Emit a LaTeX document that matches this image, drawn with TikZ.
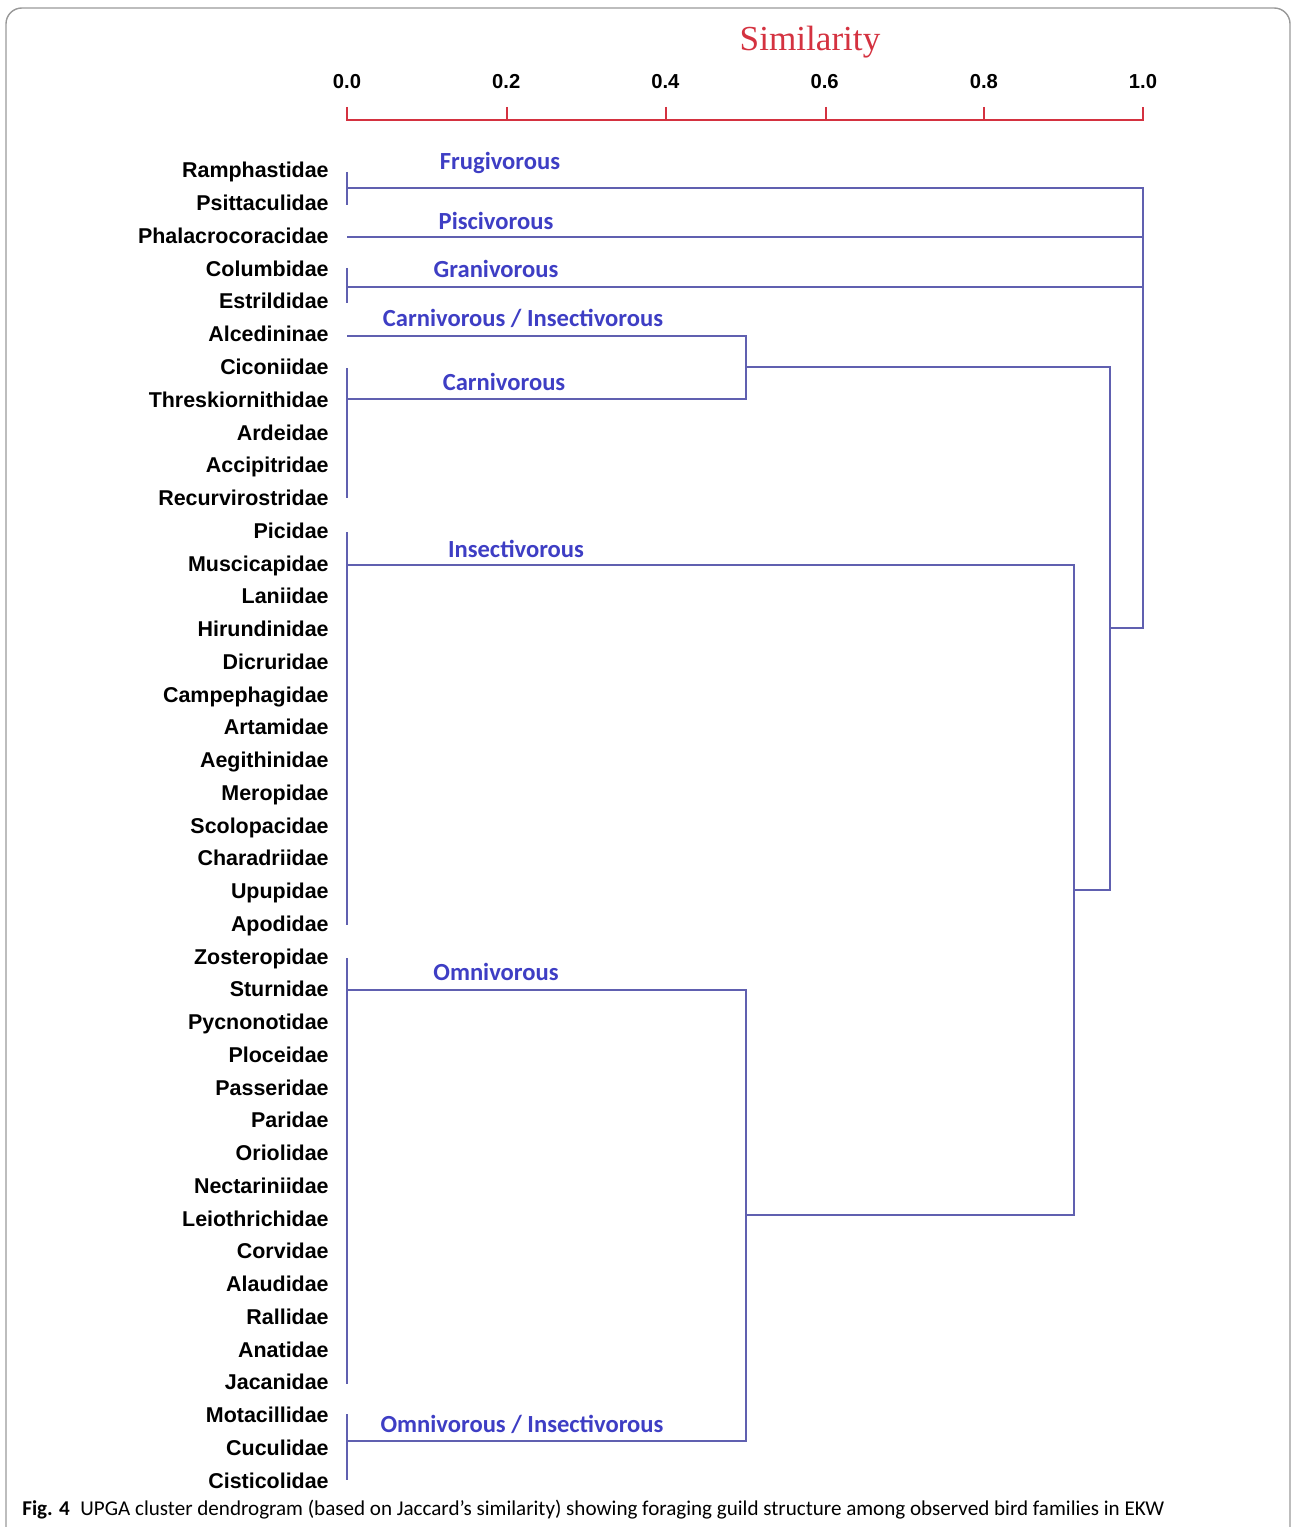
\documentclass[tikz,border=0pt]{standalone}
\usepackage{fontspec}
\setmainfont{Liberation Sans}
\newfontfamily\guildfont{Carlito}
\newfontfamily\titlefont{Liberation Serif}
\usetikzlibrary{positioning}
\definecolor{axisred}{RGB}{212,50,64}
\definecolor{linkblue}{RGB}{96,96,176}
\definecolor{guildblue}{RGB}{62,62,196}
\tikzset{
  fam/.style={anchor=base east, inner sep=0pt, font=\bfseries\fontsize{12.2}{14}\selectfont},
  guild/.style={inner sep=0pt, text=guildblue, font=\guildfont\bfseries\fontsize{14}{16}\selectfont},
  tick/.style={inner sep=0pt, font=\bfseries\fontsize{11.5}{13}\selectfont},
  link/.style={draw=linkblue, line width=0.9pt},
}

\begin{document}
\begin{tikzpicture}[x=0.02cm, y=-0.02cm]
	\useasboundingbox (0,0) rectangle (1292,1527);
	\clip (0,0) rectangle (1292,1527);
	\draw[gray!80, line width=0.8pt, rounded corners=9pt] (6,8) rectangle (1290,1570);
	% axis
	\node[text=axisred, font=\titlefont\fontsize{20}{22}\selectfont, inner sep=0pt] (sim) at (810,42) {Similarity};
	\draw[axisred, line width=0.7pt] (347,107) -- (347,120) -- (1143,120) -- (1143,107);
	\foreach \t in {507,666,826,984} \draw[axisred, line width=0.7pt] (\t,107) -- (\t,120);
	\foreach \v [count=\k from 0] in {0.0,0.2,0.4,0.6,0.8,1.0}
		\node[tick] (t\k) at ({347+159.2*\k},82) {\v};
	% families
	\foreach \fam [count=\i] in {Ramphastidae,Psittaculidae,Phalacrocoracidae,Columbidae,Estrildidae,
		Alcedininae,Ciconiidae,Threskiornithidae,Ardeidae,Accipitridae,Recurvirostridae,Picidae,
		Muscicapidae,Laniidae,Hirundinidae,Dicruridae,Campephagidae,Artamidae,Aegithinidae,Meropidae,
		Scolopacidae,Charadriidae,Upupidae,Apodidae,Zosteropidae,Sturnidae,Pycnonotidae,Ploceidae,
		Passeridae,Paridae,Oriolidae,Nectariniidae,Leiothrichidae,Corvidae,Alaudidae,Rallidae,
		Anatidae,Jacanidae,Motacillidae,Cuculidae,Cisticolidae}
		\node[fam] (f\i) at (329,{178+32.75*(\i-1)}) {\fam};
	% guild bars
	\draw[link] (347,172) -- (347,205);
	\draw[link] (347,268) -- (347,303);
	\draw[link] (347,368) -- (347,498);
	\draw[link] (347,532) -- (347,925);
	\draw[link] (347,958) -- (347,1384);
	\draw[link] (347,1414) -- (347,1480);
	\coordinate (frug) at (347,188);
	\coordinate (pisc) at (347,237);
	\coordinate (gran) at (347,287);
	\coordinate (cains) at (347,336);
	\coordinate (carn) at (347,399);
	\coordinate (insc) at (347,565);
	\coordinate (omni) at (347,990);
	\coordinate (oins) at (347,1441);
	\coordinate (c1) at (746,367);
	\coordinate (c2) at (746,1215);
	\coordinate (c3) at (1074,890);
	\coordinate (c4) at (1110,628);
	\coordinate (root) at (1143,628);
	% tree
	\draw[link] (cains) -| (c1) |- (carn);
	\draw[link] (omni) -| (c2) |- (oins);
	\draw[link] (insc) -| (c3) |- (c2);
	\draw[link] (c1) -| (c4) |- (c3);
	\draw[link] (frug) -| (root) -- (c4);
	\draw[link] (pisc) -- (pisc -| root);
	\draw[link] (gran) -- (gran -| root);
	% guild names
	\node[guild] (g1) at (500,163) {Frugivorous};
	\node[guild] (g2) at (496,221) {Piscivorous};
	\node[guild] (g3) at (496,269) {Granivorous};
	\node[guild] (g4) at (523,318) {Carnivorous / Insectivorous};
	\node[guild] (g5) at (504,382) {Carnivorous};
	\node[guild] (g6) at (516,549) {Insectivorous};
	\node[guild] (g7) at (496,972) {Omnivorous};
	\node[guild] (g8) at (522,1424) {Omnivorous / Insectivorous};
	% caption
	\node[anchor=base west, inner sep=0pt, font=\guildfont\fontsize{12}{14}\selectfont] (cap) at (22,1515)
		{\textbf{Fig. 4}\enspace UPGA cluster dendrogram (based on Jaccard’s similarity) showing foraging guild structure among observed bird families in EKW};
\end{tikzpicture}
\end{document}
